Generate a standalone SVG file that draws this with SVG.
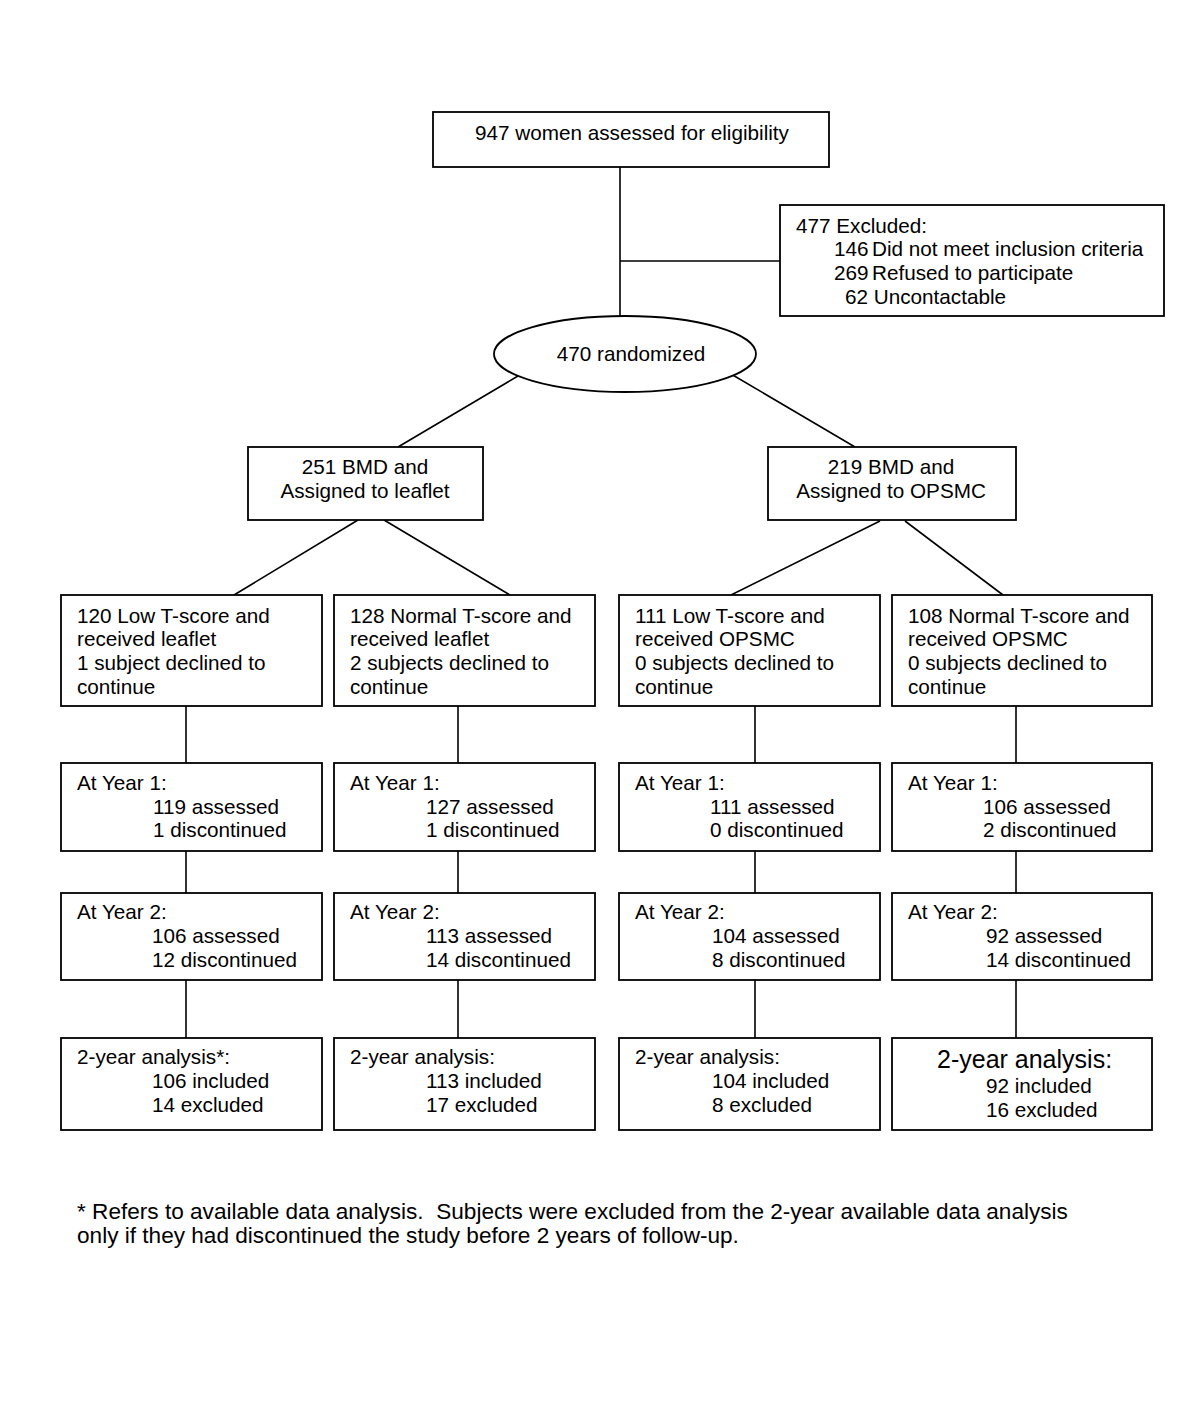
<svg xmlns="http://www.w3.org/2000/svg" width="1200" height="1404" viewBox="0 0 1200 1404">
<style>
.b{fill:#fff;stroke:#000;stroke-width:1.8}
.c{fill:none;stroke:#000;stroke-width:1.6}
text{font-family:"Liberation Sans",Arial,sans-serif;font-size:20.7px;fill:#000}
.m{text-anchor:middle}
.big{font-size:25px}
.fn{font-size:22.6px}
</style>
<rect width="1200" height="1404" fill="#fff"/>
<g id="connectors">
<path class="c" d="M620 167V316M620 261H780"/>
<path class="c" d="M518 376L398 447M731 374L855 447"/>
<path class="c" d="M358 520L234 595M384 520L510 595M880 521L731 595M905 521L1003 595"/>
<path class="c" d="M186 706V763M458 706V763M755 706V763M1016 706V763"/>
<path class="c" d="M186 851V893M458 851V893M755 851V893M1016 851V893"/>
<path class="c" d="M186 980V1038M458 980V1038M755 980V1038M1016 980V1038"/>
</g>
<g id="n_assessed"><rect class="b" x="433" y="112" width="396" height="55"/><text x="632" y="140" class="m">947 women assessed for eligibility</text></g>
<g id="n_excluded"><rect class="b" x="780" y="205" width="384" height="111"/>
<text x="796" y="233">477 Excluded:</text>
<text x="834" y="256">146</text><text x="872" y="256">Did not meet inclusion criteria</text>
<text x="834" y="280">269</text><text x="872" y="280">Refused to participate</text>
<text x="845" y="304">62 Uncontactable</text></g>
<g id="n_randomized"><ellipse class="b" cx="625" cy="354" rx="131" ry="38"/><text x="631" y="361" class="m">470 randomized</text></g>
<g id="n_leaflet"><rect class="b" x="248" y="447" width="235" height="73"/><text x="365" y="474" class="m">251 BMD and</text><text x="365" y="498" class="m">Assigned to leaflet</text></g>
<g id="n_opsmc"><rect class="b" x="768" y="447" width="248" height="73"/><text x="891" y="474" class="m">219 BMD and</text><text x="891" y="498" class="m">Assigned to OPSMC</text></g>
<g id="n_r1c1"><rect class="b" x="61" y="595" width="261" height="111"/><text x="77" y="623">120 Low T-score and</text><text x="77" y="646">received leaflet</text><text x="77" y="670">1 subject declined to</text><text x="77" y="694">continue</text></g>
<g id="n_r1c2"><rect class="b" x="334" y="595" width="261" height="111"/><text x="350" y="623">128 Normal T-score and</text><text x="350" y="646">received leaflet</text><text x="350" y="670">2 subjects declined to</text><text x="350" y="694">continue</text></g>
<g id="n_r1c3"><rect class="b" x="619" y="595" width="261" height="111"/><text x="635" y="623">111 Low T-score and</text><text x="635" y="646">received OPSMC</text><text x="635" y="670">0 subjects declined to</text><text x="635" y="694">continue</text></g>
<g id="n_r1c4"><rect class="b" x="892" y="595" width="260" height="111"/><text x="908" y="623">108 Normal T-score and</text><text x="908" y="646">received OPSMC</text><text x="908" y="670">0 subjects declined to</text><text x="908" y="694">continue</text></g>
<g id="n_r2c1"><rect class="b" x="61" y="763" width="261" height="88"/><text x="77" y="790">At Year 1:</text><text x="153" y="814">119 assessed</text><text x="153" y="837">1 discontinued</text></g>
<g id="n_r2c2"><rect class="b" x="334" y="763" width="261" height="88"/><text x="350" y="790">At Year 1:</text><text x="426" y="814">127 assessed</text><text x="426" y="837">1 discontinued</text></g>
<g id="n_r2c3"><rect class="b" x="619" y="763" width="261" height="88"/><text x="635" y="790">At Year 1:</text><text x="710" y="814">111 assessed</text><text x="710" y="837">0 discontinued</text></g>
<g id="n_r2c4"><rect class="b" x="892" y="763" width="260" height="88"/><text x="908" y="790">At Year 1:</text><text x="983" y="814">106 assessed</text><text x="983" y="837">2 discontinued</text></g>
<g id="n_r3c1"><rect class="b" x="61" y="893" width="261" height="87"/><text x="77" y="919">At Year 2:</text><text x="152" y="943">106 assessed</text><text x="152" y="967">12 discontinued</text></g>
<g id="n_r3c2"><rect class="b" x="334" y="893" width="261" height="87"/><text x="350" y="919">At Year 2:</text><text x="426" y="943">113 assessed</text><text x="426" y="967">14 discontinued</text></g>
<g id="n_r3c3"><rect class="b" x="619" y="893" width="261" height="87"/><text x="635" y="919">At Year 2:</text><text x="712" y="943">104 assessed</text><text x="712" y="967">8 discontinued</text></g>
<g id="n_r3c4"><rect class="b" x="892" y="893" width="260" height="87"/><text x="908" y="919">At Year 2:</text><text x="986" y="943">92 assessed</text><text x="986" y="967">14 discontinued</text></g>
<g id="n_r4c1"><rect class="b" x="61" y="1038" width="261" height="92"/><text x="77" y="1064">2-year analysis*:</text><text x="152" y="1088">106 included</text><text x="152" y="1112">14 excluded</text></g>
<g id="n_r4c2"><rect class="b" x="334" y="1038" width="261" height="92"/><text x="350" y="1064">2-year analysis:</text><text x="426" y="1088">113 included</text><text x="426" y="1112">17 excluded</text></g>
<g id="n_r4c3"><rect class="b" x="619" y="1038" width="261" height="92"/><text x="635" y="1064">2-year analysis:</text><text x="712" y="1088">104 included</text><text x="712" y="1112">8 excluded</text></g>
<g id="n_r4c4"><rect class="b" x="892" y="1038" width="260" height="92"/><text x="937" y="1068" class="big">2-year analysis:</text><text x="986" y="1093">92 included</text><text x="986" y="1117">16 excluded</text></g>
<g id="footnote"><text x="77" y="1219" class="fn" xml:space="preserve">* Refers to available data analysis.  Subjects were excluded from the 2-year available data analysis</text><text x="77" y="1243" class="fn">only if they had discontinued the study before 2 years of follow-up.</text></g>
</svg>
